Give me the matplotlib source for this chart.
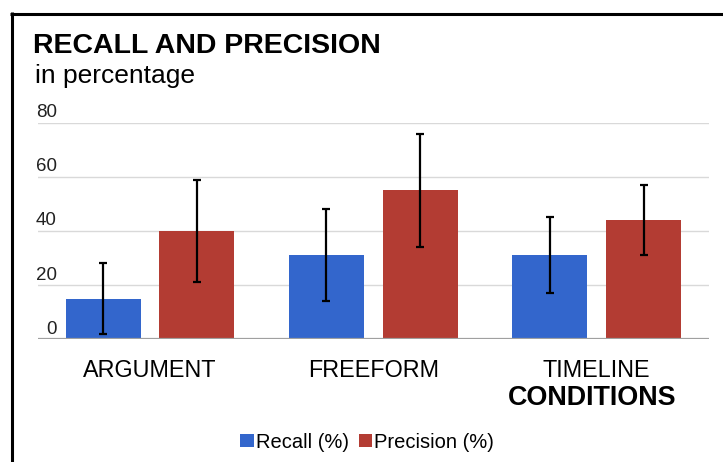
import matplotlib
matplotlib.use('Agg')
from matplotlib import pyplot as plt
from matplotlib.lines import Line2D
from matplotlib.patches import Patch
import numpy as np

plt.rcParams['font.family'] = ['Liberation Sans', 'DejaVu Sans']

conditions = ['ARGUMENT', 'FREEFORM', 'TIMELINE']
recall = [15, 31, 31]
recall_err = [13, 17, 14]
precision = [40, 55, 44]
precision_err = [19, 21, 13]
y_ticks = [0, 20, 40, 60, 80]

blue = '#3366CC'
red = '#B33C33'

W, H = 723, 462
fig = plt.figure(figsize=(W / 100, H / 100), dpi=100)

# axes placed to match the reference pixel layout
ax_left, ax_right = 38.3, 708.5
ax_top, ax_bottom = 122.7, 339.3
ax = fig.add_axes([ax_left / W, (H - ax_bottom) / H,
                   (ax_right - ax_left) / W, (ax_bottom - ax_top) / H])

x = np.arange(len(conditions))
off, bw = 0.21, 0.335
err_kw = dict(ecolor='black', elinewidth=1.6, capsize=3, capthick=1.6)
ax.bar(x - off, recall, bw, color=blue, yerr=recall_err, error_kw=err_kw,
       label='Recall (%)', zorder=3)
ax.bar(x + off, precision, bw, color=red, yerr=precision_err, error_kw=err_kw,
       label='Precision (%)', zorder=3)

ax.set_xlim(-0.5, 2.5)
ax.set_ylim(0, 80)
for s in ax.spines.values():
    s.set_visible(False)

# gridlines and baseline
for v in y_ticks[1:]:
    ax.axhline(v, color='#d9d9d9', lw=1.0, zorder=1)
ax.axhline(0, color='#a0a0a0', lw=1.6, zorder=4)

# y tick labels sit above the gridlines
ax.set_yticks([])
for v in y_ticks:
    ax.annotate(str(v), xy=((57 - ax_left) / (ax_right - ax_left), v),
                xycoords=ax.get_yaxis_transform(), xytext=(0, 4),
                textcoords='offset points', ha='right', va='baseline',
                fontsize=13.5, color='#222222')

ax.set_xticks(x)
ax.set_xticklabels(conditions, fontsize=16.8)
ax.tick_params(axis='x', length=0, pad=14)

# titles
fig.text(33 / W, (H - 53.3) / H, 'RECALL AND PRECISION', fontsize=20.5,
         fontweight='bold', ha='left', va='baseline')
fig.text(35 / W, (H - 83.3) / H, 'in percentage', fontsize=19,
         ha='left', va='baseline')
fig.text(592 / W, (H - 405) / H, 'CONDITIONS', fontsize=19.4,
         fontweight='bold', ha='center', va='baseline')

# legend
handles = [Patch(facecolor=blue, edgecolor='none', label='Recall (%)'),
           Patch(facecolor=red, edgecolor='none', label='Precision (%)')]
fig.legend(handles=handles, loc='center', bbox_to_anchor=(367 / W, (H - 442) / H),
           ncol=2, frameon=False, fontsize=14.5, handlelength=0.65,
           handleheight=0.65, handletextpad=0.1, columnspacing=0.5,
           borderpad=0)

# black frame on top and left
fig.add_artist(Line2D([10 / W, 1], [(H - 13.5) / H] * 2, color='black',
                      lw=2.2, solid_capstyle='butt', transform=fig.transFigure))
fig.add_artist(Line2D([11.5 / W] * 2, [0, (H - 12) / H], color='black',
                      lw=2.2, solid_capstyle='butt', transform=fig.transFigure))

fig.savefig('out.png', dpi=100)
